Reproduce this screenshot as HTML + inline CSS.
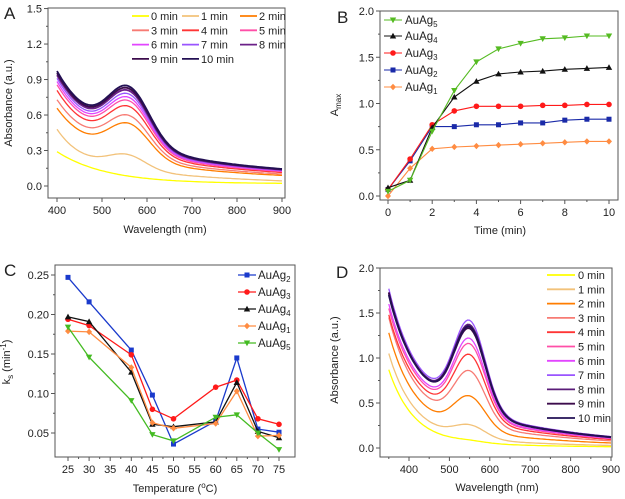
<!DOCTYPE html>
<html><head><meta charset="utf-8"><style>
html,body{margin:0;padding:0;background:#fff;}
svg{display:block;font-family:"Liberation Sans",Arial,sans-serif;}
</style></head><body>
<svg id="chartsvg" width="625" height="499" viewBox="0 0 625 499" xmlns="http://www.w3.org/2000/svg"></svg>
<script>
(function(){
var SV=document.getElementById('chartsvg');var h='';
function ln(x1,y1,x2,y2,c,w){h+='<line x1="'+x1+'" y1="'+y1+'" x2="'+x2+'" y2="'+y2+'" stroke="'+(c||'#333')+'" stroke-width="'+(w||1)+'"/>';}
function tx(x,y,t,o){o=o||{};h+='<text x="'+x+'" y="'+y+'" font-size="'+(o.fs||11)+'" fill="'+(o.c||'#222')+'" text-anchor="'+(o.a||'middle')+'"'+(o.r?' transform="rotate(-90 '+x+' '+y+')"':'')+'>'+t+'</text>';}
function box(l,t,r,b){h+='<rect x="'+l+'" y="'+t+'" width="'+(r-l)+'" height="'+(b-t)+'" fill="none" stroke="#555" stroke-width="1"/>';}
function axes(o){box(o.l,o.t,o.r,o.b);
 o.xt.forEach(function(v){var x=o.fx(v);ln(x,o.b,x,o.b+4,'#555');tx(x,o.b+16,v);});
 (o.xm||[]).forEach(function(v){var x=o.fx(v);ln(x,o.b,x,o.b+2,'#555');});
 o.yt.forEach(function(v){var y=o.fy(v);ln(o.l-4,y,o.l,y,'#555');tx(o.l-6,y+4,v.toFixed(o.yd),{a:'end'});});
 (o.ym||[]).forEach(function(v){var y=o.fy(v);ln(o.l-2,y,o.l,y,'#555');});}
function pl(pts,c,w){h+='<polyline points="'+pts.map(function(p){return p[0].toFixed(1)+','+p[1].toFixed(1);}).join(' ')+'" fill="none" stroke="'+c+'" stroke-width="'+(w||1.3)+'"/>';}
function mk(x,y,t,c){if(t=='s')h+='<rect x="'+(x-2.5)+'" y="'+(y-2.5)+'" width="5" height="5" fill="'+c+'"/>';
 else if(t=='c')h+='<circle cx="'+x+'" cy="'+y+'" r="2.8" fill="'+c+'"/>';
 else if(t=='u')h+='<polygon points="'+x+','+(y-3.2)+' '+(x-3.2)+','+(y+2.5)+' '+(x+3.2)+','+(y+2.5)+'" fill="'+c+'"/>';
 else if(t=='d')h+='<polygon points="'+x+','+(y+3.2)+' '+(x-3.2)+','+(y-2.5)+' '+(x+3.2)+','+(y-2.5)+'" fill="'+c+'"/>';
 else h+='<polygon points="'+x+','+(y-3.2)+' '+(x+3)+','+y+' '+x+','+(y+3.2)+' '+(x-3)+','+y+'" fill="'+c+'"/>';}
function gs(x,m,s){return Math.exp(-Math.pow((x-m)/s,2));}
var colsA=['#ffff00','#f2c27a','#ff7d00','#f77b74','#ff3535','#ff4fa8','#e245ff','#9a55ff','#6b2088','#3c0c4c','#231054'];
var i,l,p,y;
// Panel A
var PA={l:48,t:8,r:285,b:198,fx:function(v){return 57+(v-400)*0.45;},fy:function(v){return 186-v*118.3;},xt:[400,500,600,700,800,900],xm:[450,550,650,750,850],yt:[0,0.3,0.6,0.9,1.2,1.5],ym:[0.15,0.45,0.75,1.05,1.35],yd:1};
axes(PA);
var pkA=[0,0,0.54,0.61,0.69,0.74,0.77,0.80,0.83,0.85,0.87];
function fA(i,l){if(i==0)return 0.27*Math.exp(-(l-400)/110)+0.02;
 if(i==1)return 0.25*Math.exp(-(l-400)/50)+0.12*gs(l,555,60)+0.23*Math.exp(-(l-400)/300);
 var s=pkA[i]/0.87;var base=0.5*Math.exp(-(l-400)/90)+0.45*gs(l,560,65)+0.42*Math.exp(-(l-400)/330)+0.05;
 return base*s*(1+0.24*(1-s)*Math.exp(-(l-400)/80));}
for(i=0;i<=10;i++){p=[];for(l=400;l<=900;l+=5)p.push([PA.fx(l),PA.fy(fA(i,l))]);pl(p,colsA[i],i>=8?1.8:1.3);}
var lg=[0,1,2,0,1,2,0,1,2,0,1];
for(i=0;i<=10;i++){var xs=[132,182,240][lg[i]];y=16+Math.floor(i/3)*14.3;ln(xs,y,xs+17,y,colsA[i],1.8);tx(xs+19,y+4,i+' min',{a:'start'});}
tx(12,103,'Absorbance (a.u.)',{r:1});tx(165,233,'Wavelength (nm)');tx(4,19,'A',{a:'start',fs:17});

// Panel B
var PB={l:380,t:11,r:618,b:200,fx:function(v){return 388+v*22.1;},fy:function(v){return 196-v*92.5;},xt:[0,2,4,6,8,10],xm:[1,3,5,7,9],yt:[0,0.5,1,1.5,2],ym:[0.25,0.75,1.25,1.75],yd:1};
axes(PB);
var sB=[
['#55bb22','d',[0.05,0.17,0.70,1.14,1.45,1.59,1.65,1.70,1.71,1.73,1.73],'5'],
['#111111','u',[0.09,0.17,0.74,1.07,1.24,1.32,1.34,1.35,1.37,1.38,1.39],'4'],
['#ff1a1a','c',[0.07,0.40,0.77,0.92,0.97,0.97,0.97,0.98,0.98,0.99,0.99],'3'],
['#1a2aa8','s',[0.07,0.38,0.75,0.75,0.77,0.77,0.79,0.79,0.82,0.83,0.83],'2'],
['#ff8c42','x',[0.0,0.30,0.51,0.53,0.54,0.55,0.56,0.57,0.58,0.59,0.59],'1']];
sB.slice().reverse().forEach(function(s){var q=s[2].map(function(v,k){return [PB.fx(k),PB.fy(v)];});pl(q,s[0],1.1);q.forEach(function(r){mk(r[0],r[1],s[1],s[0]);});});
sB.forEach(function(s,k){var yy=[20,36,53,70,87][k];ln(384,yy,402,yy,s[0],1.1);mk(393,yy,s[1],s[0]);tx(405,yy+4,'AuAg<tspan font-size="8" dy="3">'+s[3]+'</tspan>',{a:'start',fs:11.5});});
h+='<text x="338" y="105" font-size="11" fill="#222" text-anchor="middle" transform="rotate(-90 338 105)">A<tspan font-size="8" dy="3">max</tspan></text>';
tx(500,234,'Time (min)');tx(337,23,'B',{a:'start',fs:17});

// Panel C
var PC={l:55,t:265,r:295,b:457,fx:function(v){return 68+(v-25)*4.22;},fy:function(v){return 275+(0.25-v)*790;},xt:[25,30,35,40,45,50,55,60,65,70,75],xm:[27.5,32.5,37.5,42.5,47.5,52.5,57.5,62.5,67.5,72.5],yt:[0.05,0.1,0.15,0.2,0.25],ym:[0.075,0.125,0.175,0.225],yd:2};
axes(PC);
var T=[25,30,40,45,50,60,65,70,75];
var sC=[
['#1a3acc','s',[.247,.216,.155,.098,.036,.065,.145,.055,.051],'2'],
['#ff1a1a','c',[.194,.186,.149,.080,.068,.108,.117,.068,.061],'3'],
['#111111','u',[.197,.191,.127,.061,.058,.064,.114,.052,.044],'4'],
['#ff8c42','x',[.179,.178,.133,.063,.056,.062,.103,.046,.047],'1'],
['#44bb22','d',[.184,.146,.091,.048,.040,.070,.073,.050,.029],'5']];
sC.forEach(function(s){var q=s[2].map(function(v,k){return [PC.fx(T[k]),PC.fy(v)];});pl(q,s[0],1.3);q.forEach(function(r){mk(r[0],r[1],s[1],s[0]);});});
sC.forEach(function(s,k){var yy=[275,292,309,326,343][k];ln(238,yy,256,yy,s[0],1.3);mk(247,yy,s[1],s[0]);tx(258,yy+4,'AuAg<tspan font-size="8" dy="3">'+s[3]+'</tspan>',{a:'start',fs:11.5});});
h+='<text x="10" y="362" font-size="11" fill="#222" text-anchor="middle" transform="rotate(-90 10 362)">k<tspan font-size="8" dy="3">s</tspan><tspan dy="-3"> (min</tspan><tspan font-size="8" dy="-4">-1</tspan><tspan dy="4">)</tspan></text>';
h+='<text x="175" y="492" font-size="11" fill="#222" text-anchor="middle">Temperature (<tspan font-size="8" dy="-4">o</tspan><tspan dy="4">C)</tspan></text>';
tx(4,276,'C',{a:'start',fs:17});

// Panel D
var PD={l:380,t:268,r:612,b:457,fx:function(v){return 409+(v-400)*0.404;},fy:function(v){return 448-v*90;},xt:[400,500,600,700,800,900],xm:[350,450,550,650,750,850],yt:[0,0.5,1,1.5,2],ym:[0.25,0.75,1.25,1.75],yd:1};
axes(PD);
var LL=[0.87,1.05,1.28,1.45,1.48,1.55,1.6,1.77,1.72,1.73,1.70];
var PP=[0.09,0.26,0.58,0.86,1.04,1.16,1.22,1.42,1.37,1.33,1.35];
var colsD=['#ffff00','#f2c27a','#ff7d00','#f77b74','#ff3535','#ff4fa8','#e245ff','#9a55ff','#5a1c78','#3c0c4c','#231054'];
function fD(i,l){var b=0.53*PP[i]+0.04,a=LL[i]-b,pk=PP[i]-0.513*b-0.036*a;return a*Math.exp(-(l-350)/60)+b*Math.exp(-(l-350)/300)+Math.max(pk,0)*gs(l,550,55);}
for(i=0;i<=10;i++){p=[];for(l=350;l<=900;l+=5)p.push([PD.fx(l),PD.fy(fD(i,l))]);pl(p,colsD[i],i>=8?1.8:1.3);}
for(i=0;i<=10;i++){y=275+i*14.3;ln(547,y,575,y,colsD[i],1.8);tx(578,y+4,i+' min',{a:'start'});}
tx(338,360,'Absorbance (a.u.)',{r:1});tx(497,491,'Wavelength (nm)');tx(336,278,'D',{a:'start',fs:17});
SV.innerHTML=h;
})();
</script>
</body></html>
